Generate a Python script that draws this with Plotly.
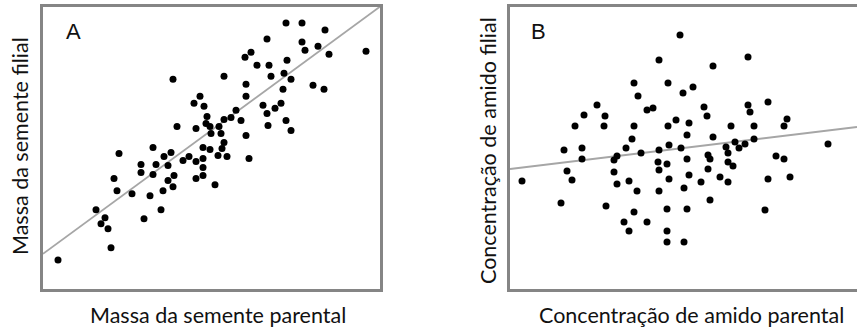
import plotly.graph_objects as go

# Panel A: parent seed mass vs offspring seed mass (arbitrary units)
mass_parent = [130, 151, 157, 134, 153, 110, 128, 243, 259, 282, 224, 259, 275, 262, 286, 323,
               208, 202, 244, 214, 226, 241, 228, 248, 181, 203, 270, 281, 240, 203, 161, 220,
               238, 193, 232, 224, 164, 188, 181, 198, 243, 163, 167, 176, 225, 248, 168, 178,
               203, 181, 160, 167, 179, 76, 121, 98, 113, 125, 140, 146, 153, 98, 110, 131,
               153, 71, 125, 74, 89, 120, 130, 107, 53, 118, 62, 101, 58, 65, 68, 15,
               160, 175, 184, 206, 160, 160, 172]
mass_offspring = [209, 185, 192, 162, 160, 141, 136, 265, 265, 258, 249, 246, 242, 238, 234, 237,
                  236, 231, 228, 223, 223, 215, 212, 209, 212, 204, 203, 199, 199, 192, 182, 183,
                  185, 178, 180, 175, 172, 171, 169, 168, 168, 165, 162, 162, 163, 158, 155, 155,
                  153, 146, 141, 139, 140, 135, 132, 124, 124, 123, 128, 132, 127, 116, 114, 113,
                  110, 110, 108, 98, 95, 98, 102, 93, 79, 79, 71, 70, 65, 60, 41, 29,
                  130, 133, 132, 130, 121, 113, 104]
fit_a_intercept = 35
fit_a_slope = 0.731

# Panel B: parent starch concentration vs offspring starch concentration
starch_parent = [149, 170, 124, 158, 128, 87, 74, 95, 137, 143, 65, 94, 124, 158, 122, 54,
                 72, 116, 149, 159, 238, 203, 183, 173, 258, 194, 238, 240, 197, 166, 179, 221,
                 244, 277, 274, 177, 203, 244, 225, 235, 171, 216, 229, 318, 72, 107, 104, 131,
                 148, 157, 149, 159, 57, 62, 12, 104, 107, 119, 127, 149, 51, 96, 124, 157,
                 114, 137, 119, 157, 157, 177, 198, 200, 218, 218, 223, 198, 266, 274, 179, 191,
                 210, 218, 174, 200, 258, 280, 177, 255, 174]
starch_offspring = [229, 254, 206, 206, 193, 184, 174, 173, 179, 181, 163, 163, 163, 163, 150, 139,
                    141, 141, 139, 144, 232, 223, 202, 196, 187, 182, 184, 177, 173, 169, 166, 163,
                    163, 170, 163, 154, 152, 150, 147, 145, 141, 142, 141, 145, 130, 133, 129, 136,
                    127, 125, 119, 110, 118, 109, 108, 117, 105, 108, 98, 98, 86, 83, 77, 80,
                    67, 67, 58, 58, 47, 130, 134, 130, 136, 127, 123, 120, 133, 130, 114, 107,
                    112, 107, 101, 89, 110, 112, 80, 79, 47]
fit_b_intercept = 120
fit_b_slope = 0.121

range_a_x = [0, 337]
range_a_y = [0, 281]
range_b_x = [0, 347]
range_b_y = [0, 282]

fig = go.Figure()

marker = dict(color="black", size=7)
fig.add_trace(go.Scatter(x=range_a_x, y=[fit_a_intercept + fit_a_slope * v for v in range_a_x],
                         mode="lines", line=dict(color="#a6a6a6", width=1.8),
                         xaxis="x", yaxis="y", hoverinfo="skip", showlegend=False))
fig.add_trace(go.Scatter(x=mass_parent, y=mass_offspring, mode="markers", marker=marker,
                         xaxis="x", yaxis="y", showlegend=False))
fig.add_trace(go.Scatter(x=range_b_x, y=[fit_b_intercept + fit_b_slope * v for v in range_b_x],
                         mode="lines", line=dict(color="#a6a6a6", width=1.8),
                         xaxis="x2", yaxis="y2", hoverinfo="skip", showlegend=False))
fig.add_trace(go.Scatter(x=starch_parent, y=starch_offspring, mode="markers", marker=marker,
                         xaxis="x2", yaxis="y2", showlegend=False))

W, H = 857, 331
ydom = [1 - 289 / H, 1 - 7 / H]
frame = dict(showline=True, linecolor="#858585", linewidth=2.5, showgrid=False,
             zeroline=False, showticklabels=False, ticks="")

fig.update_layout(
    width=W, height=H,
    margin=dict(l=0, r=0, t=0, b=0),
    paper_bgcolor="white", plot_bgcolor="white",
    xaxis=dict(domain=[43 / W, 380 / W], range=range_a_x, mirror=True, anchor="y", **frame),
    yaxis=dict(domain=ydom, range=range_a_y, mirror=True, anchor="x", **frame),
    xaxis2=dict(domain=[510 / W, 1.0], range=range_b_x, mirror=True, anchor="y2", **frame),
    yaxis2=dict(domain=ydom, range=range_b_y, mirror=False, anchor="x2", **frame),
)

title_font = dict(family="Lato, Open Sans, sans-serif", size=21.5, color="#111111")
letter_font = dict(family="Liberation Sans, Arial, sans-serif", size=22, color="#111111")

def ann(text, px, py, font, angle=0):
    fig.add_annotation(text=text, x=px / W, y=1 - py / H, xref="paper", yref="paper",
                       showarrow=False, font=font, textangle=angle,
                       xanchor="center", yanchor="middle")

ann("Massa da semente parental", 218, 315, title_font)
ann("Concentração de amido parental", 691, 315, title_font)
ann("Massa da semente filial", 20, 146, title_font, -90)
ann("Concentração de amido filial", 488, 150, title_font, -90)
ann("A", 73, 32, letter_font)
ann("B", 538, 32, letter_font)

fig.write_html("out.html", config={"displayModeBar": False},
               post_script="document.body.style.margin='0';document.body.style.overflow='hidden';")
